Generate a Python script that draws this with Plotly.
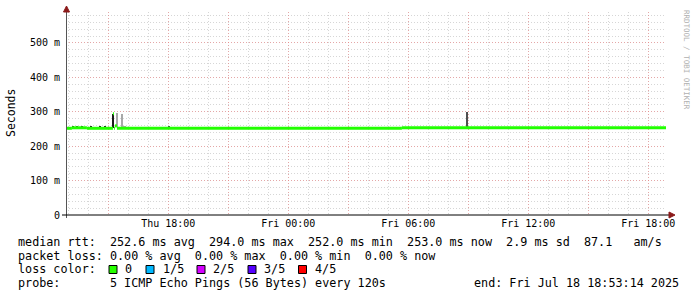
import plotly.graph_objects as go

# ---------------- data ----------------
t_start = "2025-07-17 12:53:14"
t_end = "2025-07-18 18:53:14"

# median rtt (seconds), piecewise segments: start, end, value
med_start = ["2025-07-17 12:53:14", "2025-07-17 13:11", "2025-07-17 13:56", "2025-07-17 15:14",
             "2025-07-17 15:17", "2025-07-17 15:20", "2025-07-17 15:26", "2025-07-18 05:41"]
med_end = ["2025-07-17 13:11", "2025-07-17 13:56", "2025-07-17 15:14", "2025-07-17 15:17",
           "2025-07-17 15:20", "2025-07-17 15:26", "2025-07-18 05:41", "2025-07-18 18:53:14"]
med_value = [0.252, 0.2535, 0.252, 0.294, 0.252, 0.259, 0.252, 0.2535]

# dark smoke (ping spread)
smoke_dark_time = ["2025-07-17 13:14", "2025-07-17 13:26", "2025-07-17 13:41", "2025-07-17 14:08",
                   "2025-07-17 14:34", "2025-07-17 14:50", "2025-07-17 15:14", "2025-07-17 18:02",
                   "2025-07-18 08:56"]
smoke_dark_width_min = [3, 3, 3, 3, 3, 3, 6, 3, 3]
smoke_dark_low = [0.2555, 0.2555, 0.2555, 0.2555, 0.2555, 0.2555, 0.252, 0.254, 0.2535]
smoke_dark_high = [0.2575, 0.2575, 0.2575, 0.2575, 0.2575, 0.2575, 0.294, 0.258, 0.299]

# light smoke
smoke_light_time = ["2025-07-17 15:26", "2025-07-17 15:41", "2025-07-17 15:48"]
smoke_light_width_min = [3, 3, 9]
smoke_light_low = [0.256, 0.254, 0.252]
smoke_light_high = [0.297, 0.294, 0.260]

# axis ticks
x_tickvals = ["2025-07-17 15:00", "2025-07-17 18:00", "2025-07-17 21:00", "2025-07-18 00:00",
              "2025-07-18 03:00", "2025-07-18 06:00", "2025-07-18 09:00", "2025-07-18 12:00",
              "2025-07-18 15:00", "2025-07-18 18:00"]
x_ticktext = ["", "Thu 18:00", "", "Fri 00:00", "", "Fri 06:00", "", "Fri 12:00", "", "Fri 18:00"]
y_tickvals = [0, 0.1, 0.2, 0.3, 0.4, 0.5]
y_ticktext = ["0", "100 m", "200 m", "300 m", "400 m", "500 m"]
y_max = 0.59

legend_lines = [
    "median rtt:  252.6 ms avg  294.0 ms max  252.0 ms min  253.0 ms now  2.9 ms sd  87.1   am/s",
    "packet loss: 0.00 % avg  0.00 % max  0.00 % min  0.00 % now",
    "loss color:",
    "probe:       5 ICMP Echo Pings (56 Bytes) every 120s",
]
loss_labels = ["0", "1/5", "2/5", "3/5", "4/5"]
loss_colors = ["#26ff00", "#00b8ff", "#d400ff", "#5500ff", "#ff0000"]
end_text = "end: Fri Jul 18 18:53:14 2025"
watermark = "RRDTOOL / TOBI OETIKER"

# ---------------- layout geometry ----------------
W, H = 697, 297
L, R, T, B = 66, 666, 12, 215


def px(x):
    return (x - L) / (R - L)


def py(y):
    return (B - y) / (B - T)


MONO = "DejaVu Sans Mono"

fig = go.Figure()

# smoke bars
fig.add_trace(go.Bar(
    x=smoke_light_time,
    y=[h - l for h, l in zip(smoke_light_high, smoke_light_low)],
    base=smoke_light_low,
    width=[w * 60000 for w in smoke_light_width_min],
    marker=dict(color="#a8a8a8", line=dict(width=0)),
    hoverinfo="skip", showlegend=False,
))
fig.add_trace(go.Bar(
    x=smoke_dark_time,
    y=[h - l for h, l in zip(smoke_dark_high, smoke_dark_low)],
    base=smoke_dark_low,
    width=[w * 60000 for w in smoke_dark_width_min],
    marker=dict(color=["#202020"] * 6 + ["#1a1a1a", "#505050", "#505050"], line=dict(width=0)),
    hoverinfo="skip", showlegend=False,
))

# median line (horizontal segments)
mx, my = [], []
for s, e, v in zip(med_start, med_end, med_value):
    mx += [s, e, None]
    my += [v, v, None]
fig.add_trace(go.Scatter(x=mx, y=my, mode="lines", line=dict(color="#22ff00", width=3),
                         hoverinfo="skip", showlegend=False))

grid_minor = "rgba(180,180,180,0.55)"
grid_major = "rgba(240,130,130,0.55)"

fig.update_layout(
    width=W, height=H,
    margin=dict(l=L, r=W - R, t=T, b=H - B, pad=0),
    paper_bgcolor="white", plot_bgcolor="white",
    barmode="overlay", bargap=0,
    font=dict(family=MONO, size=10, color="#000"),
    xaxis=dict(
        type="date", range=[t_start, t_end],
        tickmode="array", tickvals=x_tickvals, ticktext=x_ticktext,
        showgrid=True, gridcolor=grid_major, griddash="1px,2px", gridwidth=1,
        minor=dict(dtick=3600000, tick0="2025-07-17 00:00", showgrid=True,
                   gridcolor=grid_minor, griddash="1px,2px", gridwidth=1),
        ticks="", showline=False, zeroline=False,
        tickfont=dict(family=MONO, size=10, color="#000"),
        ticklabelstandoff=1,
        fixedrange=True,
    ),
    yaxis=dict(
        range=[0, y_max],
        tickmode="array", tickvals=y_tickvals, ticktext=y_ticktext,
        showgrid=True, gridcolor=grid_major, griddash="1px,2px", gridwidth=1,
        minor=dict(dtick=0.02, tick0=0, showgrid=True,
                   gridcolor=grid_minor, griddash="1px,2px", gridwidth=1),
        ticks="", showline=False, zeroline=False,
        tickfont=dict(family=MONO, size=10, color="#000"),
        ticklabelstandoff=5,
        fixedrange=True,
    ),
)

shapes = []
# y axis line
shapes.append(dict(type="line", xref="paper", yref="paper", x0=px(66.5), x1=px(66.5),
                   y0=py(218), y1=py(9), line=dict(color="#555", width=1)))
# x axis line
shapes.append(dict(type="line", xref="paper", yref="paper", x0=px(62), x1=px(671),
                   y0=py(215), y1=py(215), line=dict(color="#000", width=1)))
# arrows
shapes.append(dict(type="path", xref="paper", yref="paper",
                   path=f"M {px(669)} {py(212)} L {px(675)} {py(215)} L {px(669)} {py(218)} Z",
                   fillcolor="#8b1a1a", line=dict(color="#8b1a1a", width=1)))
shapes.append(dict(type="path", xref="paper", yref="paper",
                   path=f"M {px(63.5)} {py(12)} L {px(66.5)} {py(6)} L {px(69.5)} {py(12)} Z",
                   fillcolor="#8b1a1a", line=dict(color="#8b1a1a", width=1)))

annotations = []
# y axis title
annotations.append(dict(text="Seconds", xref="paper", yref="paper", x=px(11), y=py(113),
                        textangle=-90, showarrow=False, xanchor="center", yanchor="middle",
                        font=dict(family=MONO, size=11.5, color="#000")))
# watermark
annotations.append(dict(text=watermark, xref="paper", yref="paper", x=px(687), y=py(60),
                        textangle=90, showarrow=False, xanchor="center", yanchor="middle",
                        font=dict(family=MONO, size=7.5, color="#b0b0b0")))

line_y = [241.5, 255.5, 269.3, 283]
for txt, yy in zip(legend_lines, line_y):
    annotations.append(dict(text=txt.replace(" ", "\u00a0"), xref="paper", yref="paper",
                            x=px(16), y=py(yy), showarrow=False, xanchor="left", yanchor="middle",
                            font=dict(family=MONO, size=11.75, color="#000")))
annotations.append(dict(text=end_text.replace(" ", "\u00a0"), xref="paper", yref="paper",
                        x=px(681), y=py(283), showarrow=False, xanchor="right", yanchor="middle",
                        font=dict(family=MONO, size=11.75, color="#000")))

sq_x = [109, 146, 197, 248, 298.5]
lab_x = [123, 160.5, 211, 262, 312.5]
for c, lab, sx, lx in zip(loss_colors, loss_labels, sq_x, lab_x):
    shapes.append(dict(type="rect", xref="paper", yref="paper",
                       x0=px(sx), x1=px(sx + 8), y0=py(273.5), y1=py(265.5),
                       fillcolor=c, line=dict(color="#000", width=1)))
    annotations.append(dict(text=lab, xref="paper", yref="paper", x=px(lx), y=py(269.3),
                            showarrow=False, xanchor="left", yanchor="middle",
                            font=dict(family=MONO, size=11.75, color="#000")))

fig.update_layout(shapes=shapes, annotations=annotations)
fig.write_html("out.html")
